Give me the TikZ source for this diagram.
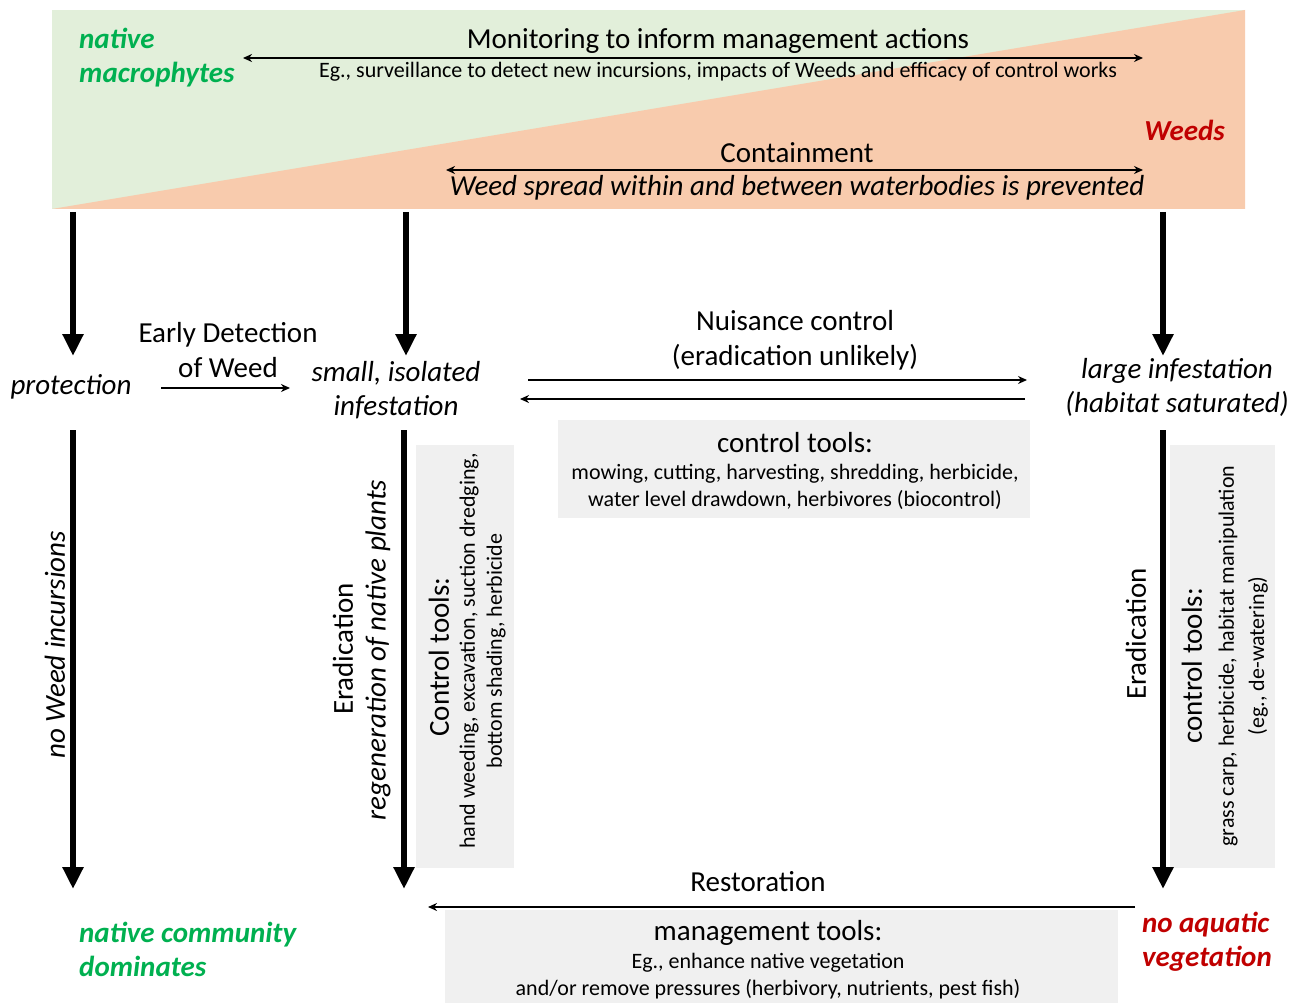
\documentclass[tikz,border=0pt]{standalone}
\usepackage{fontspec}
\setmainfont{Carlito}
\usetikzlibrary{arrows.meta}
\definecolor{natgreen}{HTML}{00B050}
\definecolor{weedred}{HTML}{C00000}
\definecolor{bggreen}{HTML}{E2EFDA}
\definecolor{bgpeach}{HTML}{F8CBAD}
\definecolor{toolgray}{HTML}{F0F0F0}
\tikzset{
  lbl/.style={font=\fontsize{29}{35}\selectfont, inner sep=0pt, align=center},
  sublbl/.style={font=\fontsize{22}{27}\selectfont, inner sep=0pt, align=center},
  state/.style={font=\fontsize{29}{34}\selectfont\itshape, inner sep=0pt, align=center},
  good/.style={font=\fontsize{29}{34}\selectfont\bfseries\itshape, text=natgreen, inner sep=0pt, align=left},
  bad/.style={font=\fontsize{29}{34}\selectfont\bfseries\itshape, text=weedred, inner sep=0pt, align=left},
  toolbox/.style={fill=toolgray, draw=none},
  bigarrow/.style={line width=6pt, -{Triangle[width=20pt,length=22pt]}},
  thinarrow/.style={line width=1.8pt, -{Stealth[length=9pt,width=8pt]}},
  thinboth/.style={line width=1.8pt, {Stealth[length=9pt,width=8pt]}-{Stealth[length=9pt,width=8pt]}},
}
\begin{document}
\begin{tikzpicture}[x=1pt,y=-1pt]
\useasboundingbox (0,0) rectangle (1306,1003);
% band
\fill[bggreen] (52,10) rectangle (1245,209);
\fill[bgpeach] (52,209) -- (1245,10) -- (1245,209) -- cycle;
\node[good, anchor=west] (natmac) at (79,58) {native\\macrophytes};
\node[bad, anchor=east] (weeds) at (1225,130) {Weeds};
% monitoring
\coordinate (monL) at (243,58);
\coordinate (monR) at (1143,58);
\draw[thinboth] (monL) -- (monR);
\node[lbl] (montxt) at (718,41) {Monitoring to inform management actions};
\node[sublbl] (monsub) at (718,72) {Eg., surveillance to detect new incursions, impacts of Weeds and efficacy of control works};
% containment
\coordinate (conL) at (446,170);
\coordinate (conR) at (1143,170);
\draw[thinboth] (conL) -- (conR);
\node[lbl] (contxt) at (797,153) {Containment};
\node[lbl, font=\fontsize{29}{35}\selectfont\itshape] (consub) at (797,188) {Weed spread within and between waterbodies is prevented};
% states
\node[state] (prot) at (71,387) {protection};
\node[state] (small) at (396,390) {small, isolated\\infestation};
\node[state] (large) at (1177,387) {large infestation\\(habitat saturated)};
\node[good, anchor=west] (natcom) at (79,949) {native community\\dominates};
\node[bad, anchor=east] (noaq) at (1272,942) {no aquatic\\vegetation};
% top arrows
\coordinate (t1) at (73,212); \coordinate (e1) at (73,356);
\coordinate (t2) at (406,212); \coordinate (e2) at (406,356);
\coordinate (t3) at (1163,212); \coordinate (e3) at (1163,356);
\draw[bigarrow] (t1) -- (e1);
\draw[bigarrow] (t2) -- (e2);
\draw[bigarrow] (t3) -- (e3);
% early detection
\node[lbl] (early) at (228,350) {Early Detection\\of Weed};
\coordinate (edL) at (161,388); \coordinate (edR) at (290,388);
\draw[thinarrow] (edL) -- (edR);
% nuisance
\node[lbl] (nuis) at (795,340) {Nuisance control\\(eradication unlikely)};
\coordinate (nuL1) at (528,380); \coordinate (nuR1) at (1027,380);
\coordinate (nuR2) at (1025,399); \coordinate (nuL2) at (520,399);
\draw[thinarrow] (nuL1) -- (nuR1);
\draw[thinarrow] (nuR2) -- (nuL2);
\fill[toolgray] (558,420) rectangle (1030,518);
\node[lbl] (ctools) at (795,443) {control tools:};
\node[sublbl] (ctoolsub) at (795,487) {mowing, cutting, harvesting, shredding, herbicide,\\water level drawdown, herbivores (biocontrol)};
% lower vertical arrows
\coordinate (b1) at (73,430); \coordinate (f1) at (73,889);
\coordinate (b2) at (404,430); \coordinate (f2) at (404,889);
\coordinate (b3) at (1163,430); \coordinate (f3) at (1163,889);
\fill[toolgray] (416,445) rectangle (514,868);
\fill[toolgray] (1170,445) rectangle (1275,868);
\draw[bigarrow] (b1) -- (f1);
\draw[bigarrow] (b2) -- (f2);
\draw[bigarrow] (b3) -- (f3);
\node[state, rotate=90] (noweed) at (55,645) {no Weed incursions};
\node[lbl, rotate=90] (erad1) at (343,649) {Eradication};
\node[state, rotate=90] (regen) at (378,650) {regeneration of native plants};
\node[lbl, rotate=90] (mtools) at (439,657) {Control tools:};
\node[sublbl, rotate=90] (mtools1) at (469,651) {hand weeding, excavation, suction dredging,};
\node[sublbl, rotate=90] (mtools2) at (496,651) {bottom shading, herbicide};
\node[lbl, rotate=90] (erad2) at (1136,634) {Eradication};
\node[lbl, rotate=90] (rtools) at (1192,666) {control tools:};
\node[sublbl, rotate=90] (rtools1) at (1228,656) {grass carp, herbicide, habitat manipulation};
\node[sublbl, rotate=90] (rtools2) at (1258,656) {(eg., de-watering)};
% restoration
\node[lbl] (rest) at (758,882) {Restoration};
\coordinate (reR) at (1135,907); \coordinate (reL) at (428,907);
\fill[toolgray] (445,910) rectangle (1118,1003);
\draw[thinarrow] (reR) -- (reL);
\node[lbl] (mgmt) at (768,933) {management tools:};
\node[sublbl] (mgmtsub) at (768,976) {Eg., enhance native vegetation\\and/or remove pressures (herbivory, nutrients, pest fish)};
\end{tikzpicture}
\end{document}
